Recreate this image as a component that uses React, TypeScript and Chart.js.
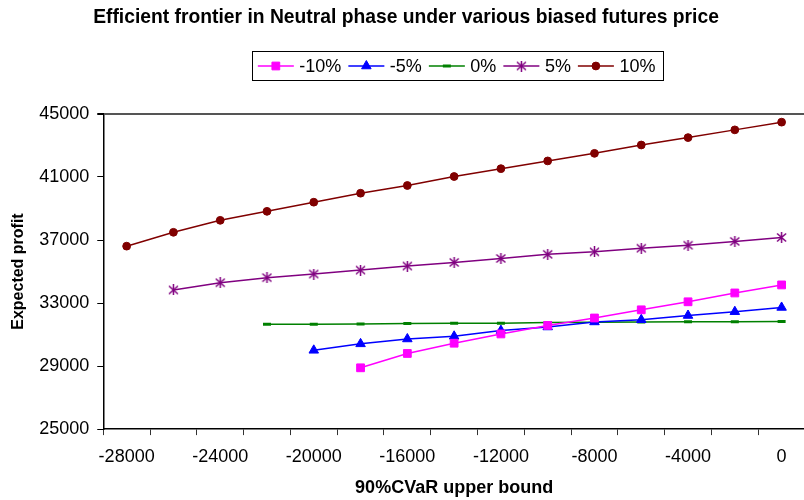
import React, { useEffect, useRef } from 'react';
import { Chart, registerables } from 'chart.js';

Chart.register(...registerables);

// ---- data ----
const cvarBounds = [-28000, -26000, -24000, -22000, -20000, -18000, -16000, -14000, -12000, -10000, -8000, -6000, -4000, -2000, 0];
const seriesNames = ['-10%', '-5%', '0%', '5%', '10%'];
const profitMinus10 = [28890, 29800, 30450, 31040, 31580, 32050, 32570, 33080, 33640, 34150];
const profitMinus5 = [30000, 30410, 30720, 30890, 31250, 31480, 31800, 31940, 32210, 32450, 32720];
const profitZero = [31660, 31660, 31670, 31700, 31710, 31720, 31760, 31780, 31800, 31810, 31820, 31830];
const profitPlus5 = [33830, 34290, 34610, 34840, 35090, 35350, 35580, 35830, 36090, 36250, 36480, 36670, 36910, 37160];
const profitPlus10 = [36610, 37490, 38250, 38820, 39400, 39970, 40460, 41030, 41530, 42020, 42500, 43030, 43500, 43990, 44480];
const yMin = 25000;
const yMax = 45000;
const yStep = 4000;

const FONT = '"Liberation Sans", Arial, Helvetica, sans-serif';

function makeStar(color: string): HTMLCanvasElement {
  const c = document.createElement('canvas');
  c.width = 11;
  c.height = 11;
  const g = c.getContext('2d')!;
  g.strokeStyle = color;
  g.lineWidth = 1.5;
  g.beginPath();
  g.moveTo(1, 1.5); g.lineTo(10, 9.5);
  g.moveTo(10, 1.5); g.lineTo(1, 9.5);
  g.moveTo(5.5, 0); g.lineTo(5.5, 11);
  g.stroke();
  return c;
}

function toPoints(values: number[]) {
  const off = cvarBounds.length - values.length;
  return values.map((v, i) => ({ x: String(cvarBounds[off + i]), y: v }));
}

function drawMarker(ctx: CanvasRenderingContext2D, ds: any, x: number, y: number) {
  const style = ds.pointStyle;
  const r = ds.pointRadius;
  ctx.save();
  ctx.fillStyle = ds.pointBackgroundColor;
  ctx.strokeStyle = ds.pointBorderColor;
  ctx.lineWidth = ds.pointBorderWidth;
  if (style instanceof HTMLCanvasElement) {
    ctx.drawImage(style, x - style.width / 2, y - style.height / 2);
  } else if (style === 'rect') {
    const s = Math.SQRT1_2 * r;
    ctx.beginPath();
    ctx.rect(x - s, y - s, 2 * s, 2 * s);
    ctx.fill();
    ctx.stroke();
  } else if (style === 'triangle') {
    ctx.beginPath();
    for (let k = 0; k < 3; k++) {
      const a = -Math.PI / 2 + (k * 2 * Math.PI) / 3;
      const px = x + Math.cos(a) * r;
      const py = y + Math.sin(a) * r;
      if (k === 0) ctx.moveTo(px, py); else ctx.lineTo(px, py);
    }
    ctx.closePath();
    ctx.fill();
    ctx.stroke();
  } else if (style === 'line') {
    ctx.beginPath();
    ctx.moveTo(x - r, y);
    ctx.lineTo(x + r, y);
    ctx.stroke();
  } else {
    ctx.beginPath();
    ctx.arc(x, y, r, 0, Math.PI * 2);
    ctx.fill();
    ctx.stroke();
  }
  ctx.restore();
}

const boxLegend = {
  id: 'boxLegend',
  afterDraw(chart: any) {
    const ctx: CanvasRenderingContext2D = chart.ctx;
    const lineLen = 36;
    const gapLT = 5.5;
    const gapTL = 7;
    ctx.save();
    ctx.font = '18px ' + FONT;
    const items = chart.data.datasets.map((ds: any) => ({ ds, w: ctx.measureText(ds.label).width }));
    const total = items.reduce((s: number, it: any) => s + lineLen + gapLT + it.w, 0) + gapTL * (items.length - 1);
    const cx = (chart.chartArea.left + chart.chartArea.right) / 2 + 2.5;
    let x = cx - total / 2;
    const cy = 66;
    ctx.strokeStyle = '#000';
    ctx.lineWidth = 1;
    ctx.strokeRect(Math.round(x - 5.5) + 0.5, 51.5, Math.round(total + 13), 29);
    ctx.textBaseline = 'middle';
    ctx.textAlign = 'left';
    for (const it of items) {
      const ds = it.ds;
      ctx.strokeStyle = ds.borderColor;
      ctx.lineWidth = ds.borderWidth;
      ctx.beginPath();
      ctx.moveTo(x, cy);
      ctx.lineTo(x + lineLen, cy);
      ctx.stroke();
      drawMarker(ctx, ds, x + lineLen / 2, cy);
      ctx.fillStyle = '#000';
      ctx.fillText(ds.label, x + lineLen + gapLT, cy + 1);
      x += lineLen + gapLT + it.w + gapTL;
    }
    ctx.restore();
  },
};

export default function App() {
  const ref = useRef<HTMLCanvasElement | null>(null);

  useEffect(() => {
    document.body.style.margin = '0';
    document.body.style.overflow = 'hidden';
    document.documentElement.style.overflow = 'hidden';
    const canvas = ref.current;
    if (!canvas) return;

    const star = makeStar('#800080');
    const base = { borderWidth: 1.5, pointBorderWidth: 1, fill: false, tension: 0 };
    const datasets = [
      { ...base, label: seriesNames[0], data: toPoints(profitMinus10), borderColor: '#FF00FF', pointBackgroundColor: '#FF00FF', pointBorderColor: '#FF00FF', pointStyle: 'rect', pointRadius: 5.5 },
      { ...base, label: seriesNames[1], data: toPoints(profitMinus5), borderColor: '#0000FF', pointBackgroundColor: '#0000FF', pointBorderColor: '#0000FF', pointStyle: 'triangle', pointRadius: 5.5 },
      { ...base, label: seriesNames[2], data: toPoints(profitZero), borderColor: '#008000', pointBackgroundColor: '#008000', pointBorderColor: '#008000', pointStyle: 'line', pointRadius: 4, pointBorderWidth: 3 },
      { ...base, label: seriesNames[3], data: toPoints(profitPlus5), borderColor: '#800080', pointBackgroundColor: '#800080', pointBorderColor: '#800080', pointStyle: star, pointRadius: 5 },
      { ...base, label: seriesNames[4], data: toPoints(profitPlus10), borderColor: '#800000', pointBackgroundColor: '#800000', pointBorderColor: '#800000', pointStyle: 'circle', pointRadius: 3.9 },
    ];

    const chart = new Chart(canvas, {
      type: 'line',
      data: { labels: cvarBounds.map(String), datasets: datasets as any },
      options: {
        responsive: true,
        maintainAspectRatio: false,
        animation: false,
        layout: { padding: { top: 0, left: 0, right: 0, bottom: 0 } },
        plugins: {
          legend: { display: false },
          tooltip: { enabled: false },
          title: {
            display: true,
            text: 'Efficient frontier in Neutral phase under various biased futures price',
            color: '#000',
            font: { family: FONT, size: 19.3, weight: 'bold' },
            padding: { top: 6.5, bottom: 84.3 },
          },
        },
        scales: {
          x: {
            type: 'category',
            offset: true,
            grid: { offset: true, drawOnChartArea: false, drawTicks: true, tickLength: 6, color: '#333', lineWidth: 1 },
            border: { display: true, color: '#000', width: 1.5 },
            ticks: {
              autoSkip: false,
              maxRotation: 0,
              minRotation: 0,
              color: '#000',
              font: { family: FONT, size: 18 },
              padding: 11.4,
              callback: function (this: any, _v: any, i: number) {
                return i % 2 === 0 ? String(cvarBounds[i]) : '';
              },
            },
            title: {
              display: true,
              text: '90%CVaR upper bound',
              color: '#000',
              font: { family: FONT, size: 18, weight: 'bold', lineHeight: 1 },
              padding: { top: -0.5, bottom: 3 },
            },
          },
          y: {
            min: yMin,
            max: yMax,
            grid: {
              drawTicks: true,
              tickLength: 6,
              tickColor: '#000',
              color: (c: any) => (c.tick && c.tick.value === yMax ? '#555' : 'rgba(0,0,0,0)'),
              lineWidth: (c: any) => (c.tick && c.tick.value === yMax ? 2 : 1),
            },
            border: { display: true, color: '#000', width: 1.5 },
            ticks: {
              stepSize: yStep,
              color: '#000',
              font: { family: FONT, size: 18 },
              padding: 8,
              callback: (v: any) => String(v),
            },
            title: {
              display: true,
              text: 'Expected profit',
              color: '#000',
              font: { family: FONT, size: 16, weight: 'bold' },
              padding: { top: 9, bottom: 3 },
            },
          },
        },
      },
      plugins: [boxLegend],
    });
    return () => chart.destroy();
  }, []);

  return (
    <div style={{ position: 'absolute', left: 0, top: 0, width: 812, height: 500 }}>
      <canvas ref={ref} />
    </div>
  );
}
